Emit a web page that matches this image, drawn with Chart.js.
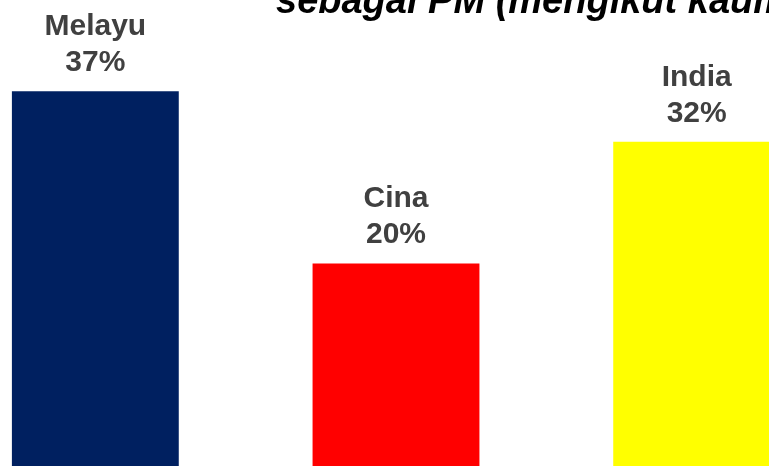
<!DOCTYPE html>
<html>
<head>
<meta charset="utf-8">
<script src="https://cdn.jsdelivr.net/npm/chart.js@4.4.0/dist/chart.umd.min.js"></script>
<style>
  html, body { margin: 0; padding: 0; background: #fff; }
  body { width: 769px; height: 466px; overflow: hidden; position: relative; }
  /* plot is wider than the window: left and right bars are clipped like the slide */
  #wrap { position: absolute; left: -55px; top: 0; width: 902px; height: 466px; }
  #title {
    position: absolute; left: 276px; top: -22px; white-space: nowrap;
    font: italic bold 38px "Liberation Sans", Arial, sans-serif; color: #000;
    line-height: 1.2;
  }
</style>
</head>
<body>
<div id="wrap"><canvas id="c"></canvas></div>
<div id="title">sebagai PM (mengikut kaum)</div>
<script>
/* ─── data ─── */
const KAUM   = ['Melayu', 'Cina', 'India'];
const PERATUS = [37, 20, 32];
const WARNA  = ['#002060', '#FF0000', '#FFFF00'];

/* two-line label (category + value) above each bar */
const barLabels = {
  id: 'barLabels',
  afterDatasetsDraw(chart) {
    const { ctx } = chart;
    const meta = chart.getDatasetMeta(0);
    ctx.save();
    ctx.font = 'bold 30px "Liberation Sans", Arial, sans-serif';
    ctx.fillStyle = '#404040';
    ctx.textAlign = 'center';
    ctx.textBaseline = 'alphabetic';
    meta.data.forEach((bar, i) => {
      ctx.fillText(PERATUS[i] + '%', bar.x, bar.y - 20);
      ctx.fillText(KAUM[i], bar.x, bar.y - 56);
    });
    ctx.restore();
  }
};

new Chart(document.getElementById('c'), {
  type: 'bar',
  data: {
    labels: KAUM,
    datasets: [{
      data: PERATUS,
      backgroundColor: WARNA,
      borderWidth: 0,
      categoryPercentage: 1,
      barPercentage: 0.555
    }]
  },
  options: {
    responsive: true, maintainAspectRatio: false, animation: false,
    layout: { padding: 0 },
    plugins: { legend: { display: false }, tooltip: { enabled: false } },
    scales: {
      x: { display: false },
      y: { display: false, min: 0, max: 46 }
    }
  },
  plugins: [barLabels]
});
</script>
</body>
</html>
